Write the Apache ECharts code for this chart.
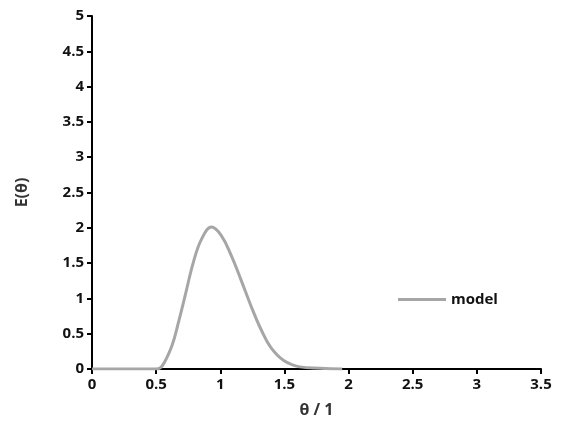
<!DOCTYPE html>
<html>
<head>
<meta charset="utf-8">
<script src="https://cdn.jsdelivr.net/npm/echarts@6/dist/echarts.min.js"></script>
<style>html,body{margin:0;padding:0;background:#fff}#chart{width:567px;height:444px}</style>
</head>
<body>
<div id="chart"></div>
<script>
const thetaValues = [0, 0.25, 0.5, 0.546, 0.623, 0.674, 0.726, 0.79, 0.854, 0.931, 1.008, 1.085, 1.16, 1.238, 1.315, 1.392, 1.495, 1.62, 1.78, 1.95];
const modelValues = [0, 0, 0, 0.04, 0.33, 0.66, 1.04, 1.51, 1.84, 2.01, 1.89, 1.61, 1.27, 0.90, 0.57, 0.31, 0.12, 0.03, 0.01, 0];

const font = {fontFamily: 'Open Sans', fontWeight: 'bold', fontSize: 15, color: '#111'};
const chart = echarts.init(document.getElementById('chart'));
chart.setOption({
    animation: false,
    grid: {left: 92, right: 26, top: 16, bottom: 75},
    legend: {
        left: 393, top: 287, itemWidth: 48, itemHeight: 3, itemGap: 4,
        textStyle: {fontFamily: 'Open Sans', fontWeight: 'bold', fontSize: 15, color: '#111'},
        data: [{name: 'model', icon: 'rect'}]
    },
    xAxis: {
        type: 'value', min: 0, max: 3.5, interval: 0.5,
        name: 'θ / 1', nameLocation: 'middle', nameGap: 33,
        nameTextStyle: {fontFamily: 'Open Sans', fontWeight: 'bold', fontSize: 16, color: '#333'},
        axisLine: {lineStyle: {color: '#000', width: 2}},
        axisTick: {length: 5, lineStyle: {color: '#000', width: 2}},
        axisLabel: font,
        splitLine: {show: false}
    },
    yAxis: {
        type: 'value', min: 0, max: 5, interval: 0.5,
        name: 'E(θ)', nameLocation: 'middle', nameGap: 62,
        nameTextStyle: {fontFamily: 'Open Sans', fontWeight: 'bold', fontSize: 16, color: '#333'},
        axisLine: {show: true, lineStyle: {color: '#000', width: 2}},
        axisTick: {show: true, length: 5, lineStyle: {color: '#000', width: 2}},
        axisLabel: font,
        splitLine: {show: false}
    },
    series: [{
        name: 'model', type: 'line', smooth: 0.4, showSymbol: false,
        data: thetaValues.map((t, i) => [t, modelValues[i]]),
        lineStyle: {color: '#a6a6a6', width: 3},
        itemStyle: {color: '#a6a6a6'}
    }]
});
</script>
</body>
</html>
